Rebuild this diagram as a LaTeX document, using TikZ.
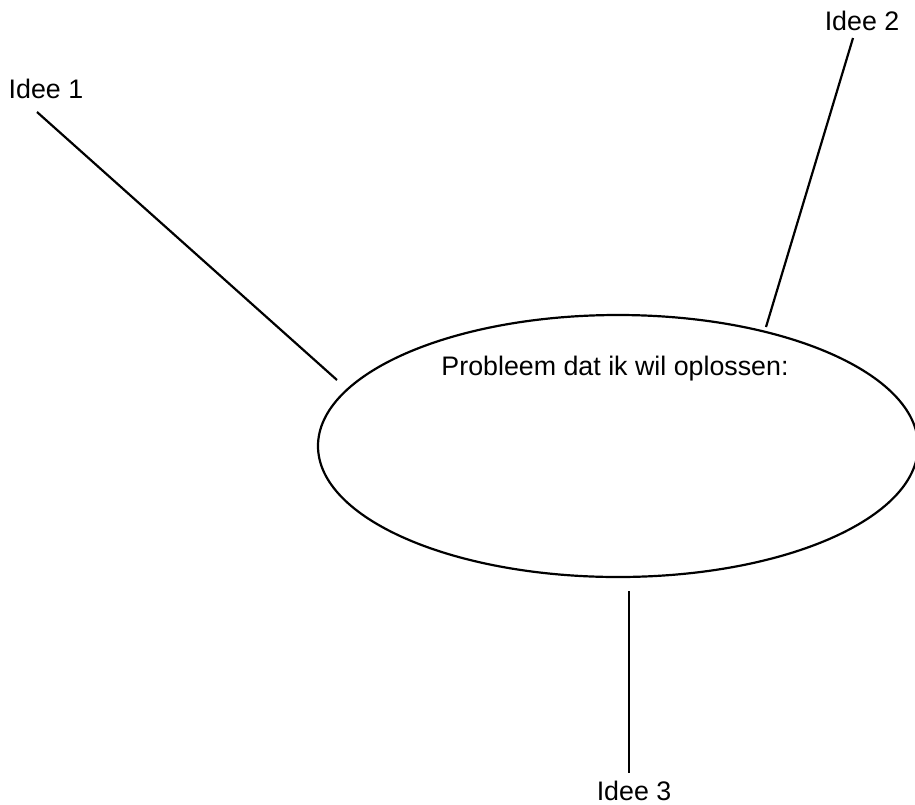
\documentclass[tikz,border=0pt]{standalone}
\usepackage{fontspec}
\setmainfont{Liberation Sans}
\usetikzlibrary{shapes.geometric}
\begin{document}
\begin{tikzpicture}[x=1pt,y=-1pt,
  lbl/.style={anchor=base,inner sep=0pt,font=\fontsize{26.8}{32}\selectfont},
  conn/.style={line width=2.2pt},
  bubble/.style={ellipse,draw,line width=2.2pt,minimum width=600pt,minimum height=262pt,inner sep=0pt}]
\useasboundingbox (0,0) rectangle (915,804);
\node[bubble] (prob) at (618,446) {};
\node[lbl] (ptext) at (615,375) {Probleem dat ik wil oplossen:};
\node[lbl] (i1) at (46,98) {Idee 1};
\node[lbl] (i2) at (862,30) {Idee 2};
\node[lbl] (i3) at (634,800) {Idee 3};
\coordinate (a1) at (37,112);
\coordinate (b1) at (337,380);
\coordinate (a2) at (853,38);
\coordinate (b2) at (766,327);
\coordinate (a3) at (629,591);
\coordinate (b3) at (629,773);
\draw[conn] (a1) -- (b1);
\draw[conn] (a2) -- (b2);
\draw[conn] (a3) -- (b3);
\end{tikzpicture}
\end{document}
